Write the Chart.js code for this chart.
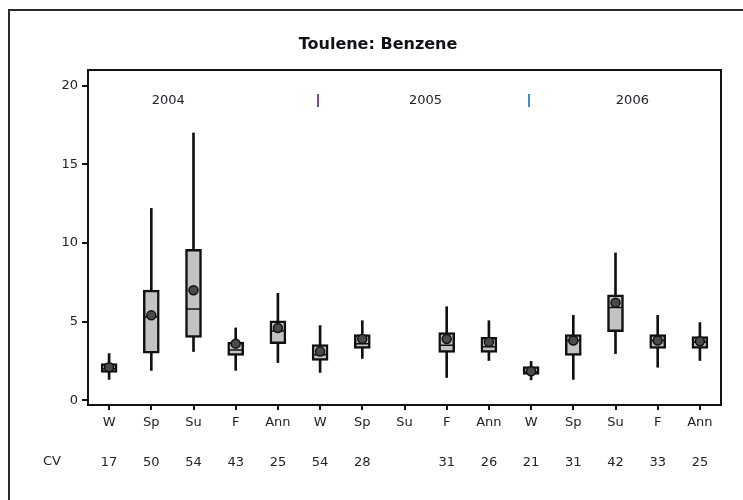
<!DOCTYPE html>
<html>
<head>
<meta charset="utf-8">
<script src="https://cdn.jsdelivr.net/npm/chart.js@4.4.1/dist/chart.umd.min.js"></script>
<style>
  html, body { margin: 0; padding: 0; background: #fff; }
  #wrap { width: 743px; height: 500px; }
</style>
</head>
<body>
<div id="wrap"><canvas id="chart" width="743" height="500"></canvas></div>
<script>
// seasons per year, 2004-2006
const seasons = ['W', 'Sp', 'Su', 'F', 'Ann', 'W', 'Sp', 'Su', 'F', 'Ann', 'W', 'Sp', 'Su', 'F', 'Ann'];
const cvLabels = ['17', '50', '54', '43', '25', '54', '28', '', '31', '26', '21', '31', '42', '33', '25'];
const years = ['2004', '2005', '2006'];
const yTicks = [0, 5, 10, 15, 20];

// box plot summaries (ratio), null where no samples
const lows    = [1.33, 1.9, 3.1, 1.9, 2.4, 1.77, 2.66, null, 1.45, 2.53, 1.3, 1.33, 2.97, 2.1, 2.53];
const q1s     = [1.77, 3.0, 4.0, 2.85, 3.6, 2.53, 3.3, null, 3.04, 3.04, 1.65, 2.85, 4.37, 3.3, 3.3];
const medians = [2.0, 5.3, 5.8, 3.2, 4.4, 2.9, 3.6, null, 3.5, 3.4, 1.8, 3.8, 5.9, 3.8, 3.7];
const q3s     = [2.34, 7.0, 9.6, 3.7, 5.05, 3.54, 4.18, null, 4.3, 4.0, 2.15, 4.18, 6.7, 4.18, 4.05];
const highs   = [2.97, 12.2, 17.0, 4.6, 6.8, 4.75, 5.06, null, 5.95, 5.06, 2.47, 5.4, 9.37, 5.4, 4.94];
const means   = [2.1, 5.4, 7.0, 3.6, 4.6, 3.1, 3.9, null, 3.9, 3.7, 1.85, 3.8, 6.2, 3.8, 3.75];

const INK = '#111';
const TEXT = '#22222c';
const FONT = '"DejaVu Sans", sans-serif';

const pairs = (a, b) => a.map((v, i) => (v == null ? null : [v, b[i]]));

const decorations = {
  id: 'decorations',
  beforeDraw(chart) {
    const ctx = chart.ctx;
    ctx.save();
    ctx.fillStyle = '#fff';
    ctx.fillRect(0, 0, chart.width, chart.height);
    // outer frame runs off the right and bottom edges
    ctx.strokeStyle = '#2a2a2a';
    ctx.lineWidth = 2;
    ctx.strokeRect(9, 10, chart.width + 20, chart.height + 20);
    ctx.restore();
  },
  afterDatasetsDraw(chart) {
    const { ctx, chartArea: a, scales: { x } } = chart;
    const step = x.getPixelForValue(1) - x.getPixelForValue(0);
    const at = p => x.getPixelForValue(0) + p * step;
    ctx.save();
    ctx.strokeStyle = INK;
    ctx.lineWidth = 2;
    ctx.strokeRect(a.left, a.top, a.right - a.left, a.bottom - a.top);

    ctx.textAlign = 'center';
    ctx.textBaseline = 'middle';
    ctx.fillStyle = '#111118';
    ctx.font = 'bold 16px ' + FONT;
    ctx.fillText('Toulene: Benzene', 378, 45);

    ctx.font = '13px ' + FONT;
    ctx.fillStyle = TEXT;
    const yearAt = [1.4, 7.5, 12.4];
    years.forEach((y, i) => ctx.fillText(y, at(yearAt[i]), a.top + 31));
    const dividers = [[4.95, '#7b4a9e'], [9.95, '#3f8fd0']];
    dividers.forEach(([p, c]) => {
      ctx.fillStyle = c;
      ctx.fillRect(Math.round(at(p)) - 1, a.top + 24, 2, 13);
    });

    ctx.fillStyle = TEXT;
    ctx.fillText('CV', 52, 462);
    ctx.restore();
  }
};

new Chart(document.getElementById('chart'), {
  data: {
    labels: seasons,
    datasets: [
      {
        type: 'bar',
        label: 'range',
        data: pairs(lows, highs),
        backgroundColor: INK,
        borderWidth: 0,
        barThickness: 2,
        grouped: false,
        order: 3
      },
      {
        type: 'bar',
        label: 'IQR',
        data: pairs(q1s, q3s),
        backgroundColor: '#c3c3c3',
        borderColor: INK,
        borderWidth: 2.5,
        borderSkipped: false,
        barThickness: 16,
        grouped: false,
        order: 2
      },
      {
        type: 'line',
        label: 'median',
        data: medians,
        showLine: false,
        pointStyle: 'line',
        pointRadius: 7,
        borderColor: INK,
        borderWidth: 1.5,
        order: 1
      },
      {
        type: 'line',
        label: 'mean',
        data: means,
        showLine: false,
        pointStyle: 'circle',
        pointRadius: 4.5,
        backgroundColor: '#4a4a4a',
        borderColor: INK,
        borderWidth: 1.5,
        order: 0
      }
    ]
  },
  options: {
    responsive: false,
    animation: false,
    devicePixelRatio: 1,
    layout: { padding: { left: 0, right: 22, top: 70, bottom: 0 } },
    plugins: {
      legend: { display: false },
      tooltip: { enabled: false }
    },
    scales: {
      x: {
        type: 'category',
        offset: true,
        border: { display: false },
        grid: { offset: false, drawOnChartArea: false, drawTicks: true, tickLength: 5, color: INK, lineWidth: 2 },
        ticks: { color: TEXT, font: { family: FONT, size: 13 }, padding: 5, maxRotation: 0, autoSkip: false },
        afterFit: s => { s.height = 40; }
      },
      x2: {
        type: 'category',
        position: 'bottom',
        labels: cvLabels,
        offset: true,
        border: { display: false },
        grid: { display: false, drawTicks: false },
        ticks: { color: TEXT, font: { family: FONT, size: 13 }, padding: 10, maxRotation: 0, autoSkip: false },
        afterFit: s => { s.height = 55; }
      },
      y: {
        min: -0.3,
        max: 21,
        border: { display: false },
        grid: { drawOnChartArea: false, drawTicks: true, tickLength: 6, color: INK, lineWidth: 2 },
        afterBuildTicks: s => { s.ticks = yTicks.map(v => ({ value: v })); },
        ticks: { color: TEXT, font: { family: FONT, size: 13 }, padding: 4 },
        afterFit: s => { s.width = 88; }
      }
    }
  },
  plugins: [decorations]
});
</script>
</body>
</html>
